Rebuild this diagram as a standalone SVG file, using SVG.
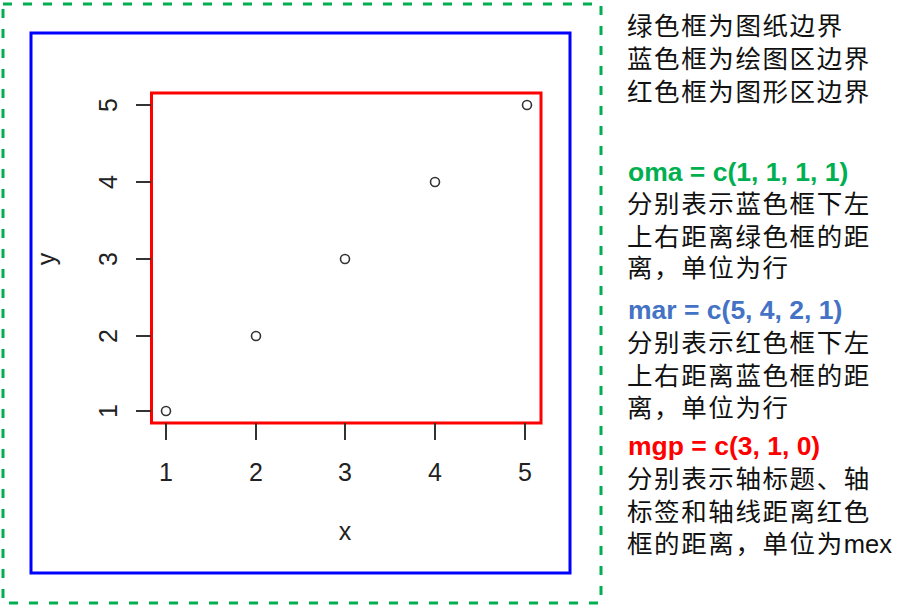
<svg xmlns="http://www.w3.org/2000/svg" width="912" height="606" viewBox="0 0 912 606">
<style>
.frame{fill:none;stroke-width:3}
.tick{stroke:#333;stroke-width:2}
.pt{fill:none;stroke:#333;stroke-width:1.6}
.num{font-family:"Liberation Sans",Arial,sans-serif;font-size:25px;fill:#222;text-anchor:middle}
.cn{font-family:"Noto Sans CJK SC",sans-serif;font-size:25.5px;letter-spacing:1.6px;fill:#111}
.code{font-family:"Liberation Sans",Arial,sans-serif;font-size:26.5px;font-weight:bold}
</style>
<rect width="912" height="606" fill="#fff"/>
<g id="paper"><rect class="frame" x="3" y="4" width="598" height="599" stroke="#00B050" stroke-dasharray="9 11"/></g>
<g id="plotregion"><rect class="frame" x="31" y="33" width="539" height="540" stroke="#0000FF"/></g>
<g id="figregion"><rect class="frame" x="151.5" y="93" width="389.5" height="330" stroke="#FF0000"/></g>
<g id="xaxis">
<path class="tick" d="M166 423V440M256 423V440M345 423V440M435 423V440M525 423V440"/>
<text class="num" x="166" y="481">1</text>
<text class="num" x="256" y="481">2</text>
<text class="num" x="345" y="481">3</text>
<text class="num" x="435" y="481">4</text>
<text class="num" x="525" y="481">5</text>
<text class="num" x="345" y="540">x</text>
</g>
<g id="yaxis">
<path class="tick" d="M136 411H151M136 336H151M136 259H151M136 182H151M136 105H151"/>
<text class="num" transform="translate(117,411) rotate(-90)">1</text>
<text class="num" transform="translate(117,336) rotate(-90)">2</text>
<text class="num" transform="translate(117,259) rotate(-90)">3</text>
<text class="num" transform="translate(117,182) rotate(-90)">4</text>
<text class="num" transform="translate(117,105) rotate(-90)">5</text>
<text class="num" transform="translate(55,259) rotate(-90)">y</text>
</g>
<g id="points">
<circle class="pt" cx="166" cy="411" r="4.5"/>
<circle class="pt" cx="256" cy="336" r="4.5"/>
<circle class="pt" cx="345" cy="259" r="4.5"/>
<circle class="pt" cx="435" cy="182" r="4.5"/>
<circle class="pt" cx="527" cy="105" r="4.5"/>
</g>
<g id="notes">
<text class="cn" x="627" y="35">绿色框为图纸边界</text>
<text class="cn" x="627" y="68">蓝色框为绘图区边界</text>
<text class="cn" x="627" y="101">红色框为图形区边界</text>
<text class="code" x="628" y="181" fill="#00B050">oma = c(1, 1, 1, 1)</text>
<text class="cn" x="627" y="213">分别表示蓝色框下左</text>
<text class="cn" x="627" y="246">上右距离绿色框的距</text>
<text class="cn" x="627" y="277">离，单位为行</text>
<text class="code" x="628" y="319" fill="#4472C4">mar = c(5, 4, 2, 1)</text>
<text class="cn" x="627" y="352">分别表示红色框下左</text>
<text class="cn" x="627" y="385">上右距离蓝色框的距</text>
<text class="cn" x="627" y="417">离，单位为行</text>
<text class="code" x="628" y="455" fill="#FF0000">mgp = c(3, 1, 0)</text>
<text class="cn" x="627" y="488">分别表示轴标题、轴</text>
<text class="cn" x="627" y="521">标签和轴线距离红色</text>
<text class="cn" x="627" y="553">框的距离，单位为<tspan font-family="Liberation Sans,Arial,sans-serif" letter-spacing="0">mex</tspan></text>
</g>
</svg>
